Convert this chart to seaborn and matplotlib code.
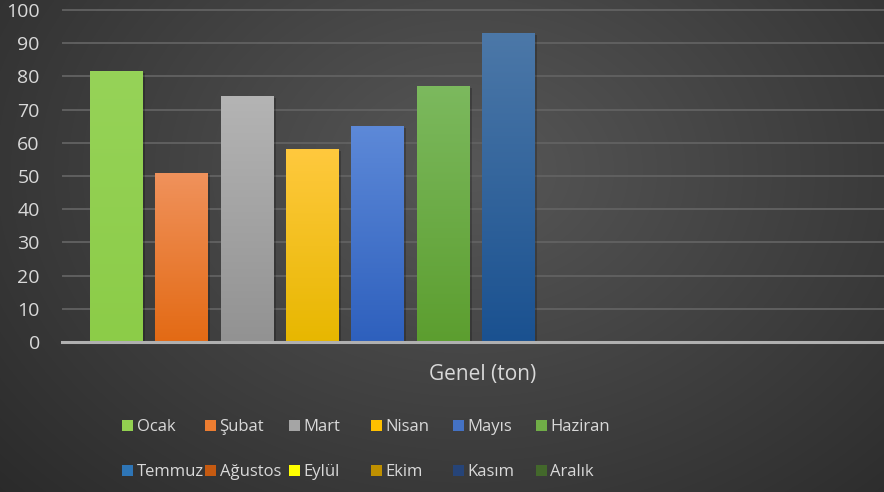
import numpy as np
import pandas as pd
import matplotlib
matplotlib.use("Agg")
import matplotlib.pyplot as plt
import matplotlib.patheffects as pe
from matplotlib.patches import Patch
from matplotlib.colors import LinearSegmentedColormap
from matplotlib.transforms import ScaledTranslation
import seaborn as sns

# --- data ---
category = "Genel (ton)"
months = ["Ocak", "Şubat", "Mart", "Nisan", "Mayıs", "Haziran",
          "Temmuz", "Ağustos", "Eylül", "Ekim", "Kasım", "Aralık"]
values = [81.5, 51, 74, 58, 65, 77, 93,
          np.nan, np.nan, np.nan, np.nan, np.nan]
y_ticks = list(range(0, 101, 10))

# renkler (legend / bar base), ve gradyan uçları
base_colors = ["#92d050", "#ed7d31", "#a5a5a5", "#ffc000", "#4472c4", "#70ad47",
               "#2e75b6", "#c55a11", "#ffff00", "#bf9000", "#264478", "#43682b"]
top_colors = ["#96d358", "#f0925c", "#b4b4b4", "#ffc93e", "#5d89d8", "#7cb95e",
              "#4c78a8", "#c55a11", "#ffff00", "#bf9000", "#264478", "#43682b"]
bottom_colors = ["#8ccc48", "#e36a14", "#929292", "#e7b700", "#2e60bd", "#5c9e2f",
                 "#1a5190", "#c55a11", "#ffff00", "#bf9000", "#264478", "#43682b"]

TEXT = "#d9d9d9"

sns.set_theme(style="dark")
plt.rcParams["font.family"] = ["Open Sans", "DejaVu Sans"]

df = pd.DataFrame({"kategori": category, "ay": months, "deger": values})

fig = plt.figure(figsize=(8.84, 4.92), dpi=100)

# arka plan: radyal koyu gri gradyan
bg = fig.add_axes([0, 0, 1, 1], zorder=0)
H, W = 492, 884
yy, xx = np.mgrid[0:H, 0:W]
d = np.sqrt(((xx - 470) / 560.0) ** 2 + ((yy - 170) / 420.0) ** 2)
d = np.clip(d, 0, 1.2)
g = (0x57 - d * 0x27) / 255.0
bg.imshow(np.dstack([g, g, g]), aspect="auto", extent=(0, 1, 0, 1), origin="upper")
bg.set_axis_off()

ax = fig.add_axes([62 / 884, 150 / 492, 1 - 62 / 884, 333.7 / 492], zorder=1)
ax.set_facecolor("none")

sns.barplot(data=df, x="kategori", y="deger", hue="ay", hue_order=months,
            palette=base_colors, width=0.8, gap=0.19, errorbar=None,
            legend=False, linewidth=0, edgecolor="none", ax=ax)

slot = 0.8 / len(months)
for p in list(ax.patches):
    h = p.get_height()
    if not np.isfinite(h) or h <= 0:
        continue
    cx = p.get_x() + p.get_width() / 2
    i = int(round((cx + 0.4 - slot / 2) / slot))
    p.set_path_effects([pe.SimplePatchShadow(offset=(1.5, -1), shadow_rgbFace="black", alpha=0.22),
                        pe.Normal()])
    cmap = LinearSegmentedColormap.from_list(f"g{i}", [bottom_colors[i], top_colors[i]])
    grad = np.linspace(0, 1, 256).reshape(-1, 1)
    im = ax.imshow(grad, cmap=cmap, aspect="auto", origin="lower",
                   extent=(p.get_x(), p.get_x() + p.get_width(), 0, h), zorder=p.get_zorder() + 0.1)
    im.set_clip_path(p)

ax.set_xlim(-0.422, 0.416)
ax.set_ylim(0, 100.5)
ax.set_yticks(y_ticks)
ax.set_yticklabels([str(t) for t in y_ticks], fontsize=14, color=TEXT)
ax.set_xticks([0])
ax.set_xticklabels([category], fontsize=15, color=TEXT)
ax.tick_params(axis="y", length=0, pad=16)
ax.tick_params(axis="x", length=0, pad=16)
for lbl in ax.get_xticklabels():
    lbl.set_transform(lbl.get_transform() + ScaledTranslation(7 / 100, 0, fig.dpi_scale_trans))
ax.set_xlabel("")
ax.set_ylabel("")

ax.grid(axis="y", color="#626262", linewidth=1.3)
ax.grid(axis="x", visible=False)
ax.set_axisbelow(True)
for s in ["top", "right", "left"]:
    ax.spines[s].set_visible(False)
ax.spines["bottom"].set_color("#b0b0b0")
ax.spines["bottom"].set_linewidth(2.2)

# legend: 6 sütun, her sütun ayrı legend (eşit sütun aralığı için)
handles = [Patch(facecolor=c, edgecolor="none") for c in base_colors]
col_x = [122, 205, 289, 371, 453, 536]
for col in range(6):
    idx = [col, col + 6]
    fig.legend([handles[k] for k in idx], [months[k] for k in idx],
               ncol=1, loc="center left", bbox_to_anchor=(col_x[col] / 884, 1 - 449.5 / 492),
               frameon=False, fontsize=12, labelcolor=TEXT,
               handlelength=0.65, handleheight=0.65, handletextpad=0.22,
               labelspacing=1.75, borderpad=0, borderaxespad=0)

fig.savefig("out.png", dpi=100)
